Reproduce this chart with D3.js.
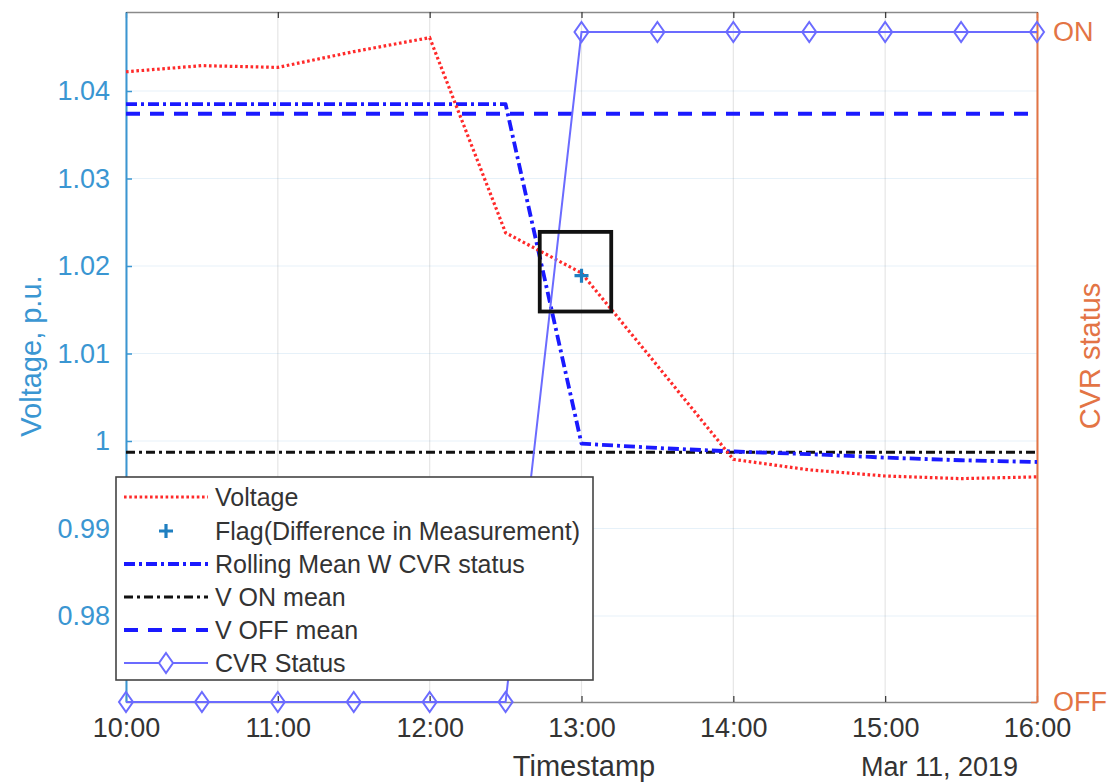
<!DOCTYPE html>
<html>
<head>
<meta charset="utf-8">
<script src="https://cdn.jsdelivr.net/npm/d3@7"></script>
<style>
  html, body { margin: 0; padding: 0; background: #fff; }
  svg { display: block; font-family: "Liberation Sans", Arial, Helvetica, sans-serif; }
</style>
</head>
<body>
<svg id="chart" width="1111" height="782"></svg>
<script>
// ---------------- data ----------------
const times = ["10:00","10:30","11:00","11:30","12:00","12:30","13:00","13:30","14:00","14:30","15:00","15:30","16:00"];
const voltage = [1.0422,1.0429,1.0427,1.0445,1.0461,1.0238,1.0192,1.0086,0.9979,0.9967,0.9960,0.9957,0.9959];
const rollingMean = [1.0385,1.0385,1.0385,1.0385,1.0385,1.0385,0.9997,0.9992,0.9988,0.9985,0.9981,0.9978,0.9976];
const cvrStatus = [0,0,0,0,0,0,1,1,1,1,1,1,1];
const vOnMean = 0.9987;
const vOffMean = 1.0374;
const flagTime = ["13:00"];
const flagValue = [1.0189];
const boxTimes = ["12:43:30","13:11:45"];
const boxValues = [1.0148,1.0239];
const yTicks = [0.98,0.99,1,1.01,1.02,1.03,1.04];
const yTickLabels = ["0.98","0.99","1","1.01","1.02","1.03","1.04"];
const xTicks = ["10:00","11:00","12:00","13:00","14:00","15:00","16:00"];
const rightTicks = [0,1];
const rightTickLabels = ["OFF","ON"];
const legendLabels = ["Voltage","Flag(Difference in Measurement)","Rolling Mean W CVR status","V ON mean","V OFF mean","CVR Status"];
const dateLabel = "Mar 11, 2019";
const xLabel = "Timestamp";
const yLabelLeft = "Voltage, p.u.";
const yLabelRight = "CVR status";

// ---------------- setup ----------------
const parse = s => {
  const p = s.split(":").map(Number);
  return new Date(2019, 2, 11, p[0], p[1], p[2] || 0);
};
const T = times.map(parse);

const L = 126, R = 1037, TOP = 12, BOT = 702;
const x = d3.scaleTime().domain([parse("10:00"), parse("16:00")]).range([L, R]);
const y = d3.scaleLinear().domain([0.97017, 1.04903]).range([BOT, TOP]);
const yR = d3.scaleLinear().domain([0, 1.0299]).range([BOT, TOP]);

const leftColor = "#3a96d2";
const rightColor = "#e37445";
const svg = d3.select("#chart");

// grid
const g = svg.append("g");
g.selectAll("line.vg").data(xTicks.map(parse)).join("line")
  .attr("x1", d => x(d)).attr("x2", d => x(d)).attr("y1", TOP).attr("y2", BOT)
  .attr("stroke", "rgba(0,0,0,0.10)").attr("stroke-width", 1.2);
g.selectAll("line.hg").data(yTicks).join("line")
  .attr("x1", L).attr("x2", R).attr("y1", d => y(d)).attr("y2", d => y(d))
  .attr("stroke", "rgba(58,150,210,0.13)").attr("stroke-width", 1.2);

// top & bottom axes (D3 axes)
const fmt = d3.timeFormat("%H:%M");
const xAxisBottom = d3.axisBottom(x).tickValues(xTicks.map(parse)).tickFormat(fmt).tickSizeInner(-6).tickSizeOuter(0).tickPadding(16);
const xb = svg.append("g").attr("transform", `translate(0,${BOT})`).call(xAxisBottom);
xb.select(".domain").attr("stroke", "#8a8a8a").attr("stroke-width", 1.5);
xb.selectAll(".tick line").attr("stroke", "#333").attr("stroke-width", 1.2);
xb.selectAll(".tick text").attr("font-size", 27).attr("fill", "#333").attr("dy", "0.71em")
  .attr("font-family", "Liberation Sans, Arial, sans-serif");
const xAxisTop = d3.axisTop(x).tickValues(xTicks.map(parse)).tickFormat("").tickSizeInner(-6).tickSizeOuter(0);
const xt = svg.append("g").attr("transform", `translate(0,${TOP})`).call(xAxisTop);
xt.select(".domain").attr("stroke", "#8a8a8a").attr("stroke-width", 1.5);
xt.selectAll(".tick line").attr("stroke", "#333").attr("stroke-width", 1.2);

// left axis
const yAxis = d3.axisLeft(y).tickValues(yTicks).tickFormat((d, i) => yTickLabels[i]).tickSizeInner(-6).tickSizeOuter(0).tickPadding(16);
const ya = svg.append("g").attr("transform", `translate(${L},0)`).call(yAxis);
ya.select(".domain").attr("stroke", leftColor).attr("stroke-width", 2);
ya.selectAll(".tick line").attr("stroke", leftColor).attr("stroke-width", 1.5);
ya.selectAll(".tick text").attr("font-size", 27).attr("fill", leftColor)
  .attr("font-family", "Liberation Sans, Arial, sans-serif");

// right axis
const yRAxis = d3.axisRight(yR).tickValues(rightTicks).tickFormat((d, i) => rightTickLabels[i]).tickSizeInner(-6).tickSizeOuter(0).tickPadding(16);
const yra = svg.append("g").attr("transform", `translate(${R},0)`).call(yRAxis);
yra.select(".domain").attr("stroke", rightColor).attr("stroke-width", 2);
yra.selectAll(".tick line").attr("stroke", rightColor).attr("stroke-width", 1.5);
yra.selectAll(".tick text").attr("font-size", 27).attr("fill", rightColor)
  .attr("font-family", "Liberation Sans, Arial, sans-serif");

// axis labels
svg.append("text").attr("x", 584).attr("y", 776).attr("text-anchor", "middle")
  .attr("font-size", 29).attr("fill", "#333").text(xLabel);
svg.append("text").attr("x", 1018).attr("y", 776).attr("text-anchor", "end")
  .attr("font-size", 27).attr("fill", "#333").text(dateLabel);
svg.append("text").attr("transform", `translate(41,356) rotate(-90)`).attr("text-anchor", "middle")
  .attr("font-size", 29).attr("fill", leftColor).text(yLabelLeft);
svg.append("text").attr("transform", `translate(1100,356) rotate(-90)`).attr("text-anchor", "middle")
  .attr("font-size", 29).attr("fill", rightColor).text(yLabelRight);

// ---------------- series ----------------
const line = d3.line().x(d => x(d[0])).y(d => y(d[1]));
const styles = {
  voltage: { stroke: "#ff2a2a", width: 3.2, dash: "2.6,2.6" },
  flag: { stroke: "#1f7fc0" },
  rolling: { stroke: "#1a1aff", width: 3.8, dash: "11,4,3,4" },
  von: { stroke: "#111", width: 3, dash: "9,4,3,4" },
  voff: { stroke: "#1a1aff", width: 3.8, dash: "14,10" },
  cvr: { stroke: "#6b6bff", width: 2 }
};

// V OFF mean
svg.append("path").datum([[T[0], vOffMean], [T[T.length - 1], vOffMean]])
  .attr("d", line).attr("fill", "none").attr("stroke", styles.voff.stroke)
  .attr("stroke-width", styles.voff.width).attr("stroke-dasharray", styles.voff.dash);
// V ON mean
svg.append("path").datum([[T[0], vOnMean], [T[T.length - 1], vOnMean]])
  .attr("d", line).attr("fill", "none").attr("stroke", styles.von.stroke)
  .attr("stroke-width", styles.von.width).attr("stroke-dasharray", styles.von.dash);
// Rolling mean
svg.append("path").datum(T.map((t, i) => [t, rollingMean[i]]))
  .attr("d", line).attr("fill", "none").attr("stroke", styles.rolling.stroke)
  .attr("stroke-width", styles.rolling.width).attr("stroke-dasharray", styles.rolling.dash)
  .attr("stroke-linejoin", "round");
// Voltage
svg.append("path").datum(T.map((t, i) => [t, voltage[i]]))
  .attr("d", line).attr("fill", "none").attr("stroke", styles.voltage.stroke)
  .attr("stroke-width", styles.voltage.width).attr("stroke-dasharray", styles.voltage.dash);

// CVR status (right axis)
const lineR = d3.line().x(d => x(d[0])).y(d => yR(d[1]));
svg.append("path").datum(T.map((t, i) => [t, cvrStatus[i]]))
  .attr("d", lineR).attr("fill", "none").attr("stroke", styles.cvr.stroke)
  .attr("stroke-width", styles.cvr.width);
const diamond = (cx, cy) => `M${cx},${cy - 10}L${cx + 7},${cy}L${cx},${cy + 10}L${cx - 7},${cy}Z`;
svg.selectAll("path.dia").data(T.map((t, i) => [t, cvrStatus[i]])).join("path")
  .attr("d", d => diamond(x(d[0]), yR(d[1]))).attr("fill", "none")
  .attr("stroke", styles.cvr.stroke).attr("stroke-width", 2);

// Flag
const plus = (cx, cy, s) => `M${cx - s},${cy}H${cx + s}M${cx},${cy - s}V${cy + s}`;
svg.selectAll("path.flag").data(flagTime.map((t, i) => [parse(t), flagValue[i]])).join("path")
  .attr("d", d => plus(x(d[0]), y(d[1]), 7)).attr("stroke", styles.flag.stroke)
  .attr("stroke-width", 3.2).attr("fill", "none");

// Box
const bx0 = x(parse(boxTimes[0])), bx1 = x(parse(boxTimes[1]));
const by0 = y(boxValues[1]), by1 = y(boxValues[0]);
svg.append("rect").attr("x", bx0).attr("y", by0).attr("width", bx1 - bx0).attr("height", by1 - by0)
  .attr("fill", "none").attr("stroke", "#111").attr("stroke-width", 3.8);

// ---------------- legend ----------------
const lg = svg.append("g");
lg.append("rect").attr("x", 116).attr("y", 477).attr("width", 477).attr("height", 203)
  .attr("fill", "#fff").attr("stroke", "#444").attr("stroke-width", 1.6);
const rowY = [497, 531, 564, 597, 630, 663];
const keys = ["voltage", "flag", "rolling", "von", "voff", "cvr"];
keys.forEach((k, i) => {
  const yy = rowY[i];
  if (k === "flag") {
    lg.append("path").attr("d", plus(166, yy, 7)).attr("stroke", styles.flag.stroke)
      .attr("stroke-width", 3.2).attr("fill", "none");
  } else {
    const st = styles[k];
    lg.append("line").attr("x1", 124).attr("x2", 208).attr("y1", yy).attr("y2", yy)
      .attr("stroke", st.stroke).attr("stroke-width", st.width)
      .attr("stroke-dasharray", st.dash || null);
    if (k === "cvr") {
      lg.append("path").attr("d", diamond(166, yy)).attr("fill", "#fff")
        .attr("stroke", st.stroke).attr("stroke-width", 2);
    }
  }
  lg.append("text").attr("x", 215).attr("y", yy).attr("dy", "0.36em")
    .attr("font-size", 25).attr("fill", "#333").text(legendLabels[i]);
});
</script>
</body>
</html>
